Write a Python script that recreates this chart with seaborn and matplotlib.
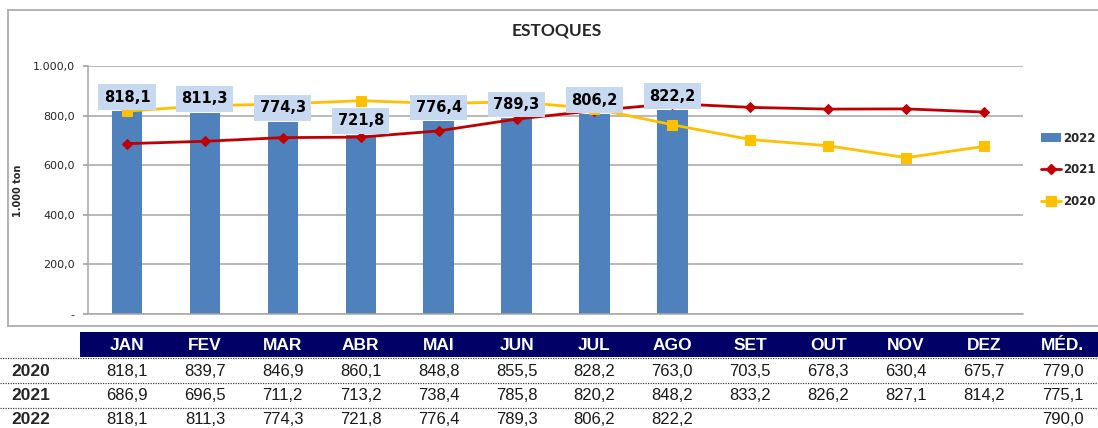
import numpy as np
import pandas as pd
import matplotlib
matplotlib.use("Agg")
import matplotlib.pyplot as plt
from matplotlib.lines import Line2D
from matplotlib.patches import Patch, Rectangle
import seaborn as sns

months = ["JAN", "FEV", "MAR", "ABR", "MAI", "JUN", "JUL", "AGO", "SET", "OUT", "NOV", "DEZ"]
v2020 = [818.1, 839.7, 846.9, 860.1, 848.8, 855.5, 828.2, 763.0, 703.5, 678.3, 630.4, 675.7]
v2021 = [686.9, 696.5, 711.2, 713.2, 738.4, 785.8, 820.2, 848.2, 833.2, 826.2, 827.1, 814.2]
v2022 = [818.1, 811.3, 774.3, 721.8, 776.4, 789.3, 806.2, 822.2]
avg = {"2020": 779.0, "2021": 775.1, "2022": 790.0}
yticks = [0, 200, 400, 600, 800, 1000]
title = "ESTOQUES"
ylabel = "1.000 ton"

def br(v, dec=1):
    s = f"{v:,.{dec}f}"
    return s.replace(",", "X").replace(".", ",").replace("X", ".")

sns.set_theme(style="white")
plt.rcParams["font.family"] = ["DejaVu Sans"]

W, H = 1098, 428
fig = plt.figure(figsize=(W / 100, H / 100), dpi=100)
fig.patch.set_facecolor("white")

def fx(px):
    return px / W

def fy(py):
    return 1 - py / H

# chart frame
fig.add_artist(Line2D([fx(8), fx(8)], [fy(10), fy(326)], color="#A6A6A6", lw=1.2))
fig.add_artist(Line2D([fx(8), 1.0], [fy(10), fy(10)], color="#A6A6A6", lw=1.2))
fig.add_artist(Line2D([fx(8), 1.0], [fy(326), fy(326)], color="#A6A6A6", lw=1.2))

ax = fig.add_axes([fx(88), fy(314), fx(1023) - fx(88), fy(66) - fy(314)])
ax.set_facecolor("none")

df22 = pd.DataFrame({"mes": months[:len(v2022)], "val": v2022})
sns.barplot(data=df22, x="mes", y="val", order=months, color="#4F81BD",
            saturation=1, width=0.39, linewidth=0, ax=ax, zorder=2)

xs = np.arange(len(months))
sns.lineplot(x=xs, y=v2021, color="#C00000", lw=2, marker="D", markersize=5,
             markeredgecolor="#C00000", ax=ax, zorder=3)
sns.lineplot(x=xs, y=v2020, color="#FFC000", lw=2, marker="s", markersize=6.5,
             markeredgecolor="#FFC000", ax=ax, zorder=3)

for i, v in enumerate(v2022):
    ax.annotate(br(v), (i, v), xytext=(0, 14), textcoords="offset pixels",
                ha="center", va="center", fontsize=10.5, fontweight="bold",
                color="black", zorder=5,
                bbox=dict(boxstyle="square,pad=0.36", fc="#C6D9F1", ec="none"))

ax.set_xlim(-0.5, len(months) - 0.5)
ax.set_ylim(0, 1000)
ax.set_yticks(yticks)
ax.set_yticklabels(["-" if t == 0 else br(t) for t in yticks], fontsize=8, color="#262626")
ax.yaxis.grid(True, color="#A6A6A6", lw=1.1)
ax.set_axisbelow(True)
ax.set_xticks([])
ax.set_xlabel("")
ax.set_ylabel("")
for s in ["top", "right"]:
    ax.spines[s].set_visible(False)
for s in ["left", "bottom"]:
    ax.spines[s].set_color("#A6A6A6")
    ax.spines[s].set_linewidth(1.1)
ax.tick_params(axis="y", which="both", left=True, length=3.5, color="#A6A6A6", pad=6)

fig.text(fx(557), fy(30), title, ha="center", va="center", fontsize=12.5,
         fontweight="bold", family="Lato")
fig.text(fx(18), fy(191), ylabel, ha="center", va="center", rotation=90,
         fontsize=7, fontweight="bold")

handles = [Patch(fc="#4F81BD", ec="none"),
           Line2D([], [], color="#C00000", lw=2, marker="D", markersize=5),
           Line2D([], [], color="#FFC000", lw=2, marker="s", markersize=6.5)]
leg = fig.legend(handles, ["2022", "2021", "2020"], loc="center left",
                 bbox_to_anchor=(fx(1030), fy(170)), frameon=False,
                 prop={"weight": "bold", "size": 8.5}, handlelength=1.7,
                 handletextpad=0.2, labelspacing=1.6)

# table
tfont = "Liberation Sans"
fig.add_artist(Rectangle((fx(80), fy(357)), 1 - fx(80), fy(332) - fy(357),
                         transform=fig.transFigure, fc="#000066", ec="none"))
cols = months + ["MÉD."]
col_x = [fx(88) + (fx(1023) - fx(88)) * (i + 0.5) / len(months) for i in range(len(months))]
col_x.append(fx(1063))
for x, c in zip(col_x, cols):
    fig.text(x, fy(345), c, ha="center", va="center", color="white",
             fontsize=12.5, fontweight="bold", family=tfont)

rows = [("2020", v2020), ("2021", v2021), ("2022", v2022)]
row_y = [371, 396, 420]
for (lab, vals), y in zip(rows, row_y):
    fig.text(fx(11), fy(y), lab, ha="left", va="center", fontsize=12.5,
             fontweight="bold", family=tfont)
    for x, v in zip(col_x, vals):
        fig.text(x, fy(y), br(v), ha="center", va="center", fontsize=12,
                 family=tfont, color="#1a1a1a")
    fig.text(col_x[-1], fy(y), br(avg[lab]), ha="center", va="center",
             fontsize=12, family=tfont, color="#1a1a1a")
for y in [358, 383, 408]:
    fig.add_artist(Line2D([0, 1], [fy(y), fy(y)], color="#404040", lw=0.9,
                          ls=(0, (1, 1))))

fig.savefig("out.png", dpi=100, facecolor="white")
